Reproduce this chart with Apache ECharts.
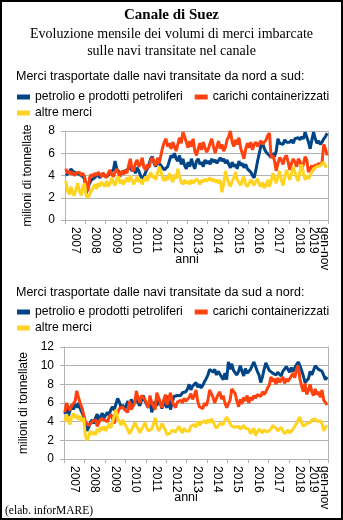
<!DOCTYPE html>
<html><head><meta charset="utf-8">
<script src="https://cdn.jsdelivr.net/npm/echarts@6/dist/echarts.min.js"></script>
<style>html,body{margin:0;padding:0;background:#fff}#c{position:absolute;left:0;top:0;width:343px;height:520px}</style>
</head><body><div id="c"></div>
<script>
// x-axis tick labels (one per year interval)
const yearLabels = ['2007','2008','2009','2010','2011','2012','2013','2014','2015','2016','2017','2018','gen-nov\n2019'];
const seriesNames = ['petrolio e prodotti petroliferi','carichi containerizzati','altre merci'];

// Nord -> Sud (milioni di tonnellate, mensile gen 2007 - nov 2019)
const nsPetrolio = [
 4.0,3.9,4.3,4.6,4.4,4.5,4.2,4.3,4.1,4.2,3.9,3.7,
 2.4,2.9,3.3,3.6,3.5,3.8,3.9,4.1,3.8,4.0,4.2,3.9,
 3.8,4.0,4.3,4.2,4.5,5.3,4.6,4.4,4.1,4.3,4.2,4.4,
 4.3,4.6,4.8,4.4,4.6,4.2,4.7,4.4,4.0,3.7,3.9,4.3,
 4.6,5.0,5.5,5.7,5.1,4.8,5.3,5.2,4.9,4.8,4.5,4.6,
 4.8,5.3,5.8,5.6,6.0,5.5,5.3,5.8,5.0,5.5,4.9,4.6,
 5.2,4.8,5.5,5.0,4.6,5.3,5.5,5.0,5.2,4.8,5.4,5.1,
 5.3,5.0,5.5,5.2,5.4,5.1,5.0,5.6,5.3,5.5,5.1,5.4,
 5.0,4.7,5.2,4.8,5.0,4.6,5.3,4.9,5.1,4.7,5.0,4.6,
 4.6,4.3,4.0,3.8,4.5,5.3,6.0,6.7,6.9,6.4,6.1,6.2,
 5.8,5.6,6.0,5.7,6.2,7.3,6.9,7.0,6.8,7.2,7.0,7.1,
 7.0,7.2,6.9,7.3,7.2,7.4,7.2,7.5,7.3,7.9,7.8,7.0,
 6.4,7.2,7.9,7.3,6.9,7.1,6.8,7.0,7.3,7.5,7.8
];
const nsContainer = [
 4.6,4.2,4.4,4.1,4.3,4.0,4.2,4.1,4.3,4.0,4.2,3.9,
 3.2,2.6,3.8,4.1,3.9,4.2,4.0,4.3,4.1,3.9,4.2,4.0,
 3.8,4.2,4.5,4.1,3.9,4.3,4.6,4.2,3.9,4.4,4.1,4.5,
 4.2,4.9,5.5,4.6,4.4,5.1,5.4,4.8,5.0,5.6,4.7,4.5,
 5.0,4.7,5.3,5.6,5.2,4.9,5.6,5.1,5.8,6.5,7.0,7.3,
 6.6,6.9,6.4,7.0,6.6,6.2,6.8,7.4,6.9,7.9,7.5,7.0,
 6.5,7.1,6.6,7.3,6.2,5.8,6.4,6.9,6.3,7.0,6.5,6.1,
 6.4,6.9,7.3,6.6,6.0,6.6,7.1,6.4,6.8,6.2,6.5,7.2,
 7.5,8.0,7.0,6.6,7.2,6.8,7.4,6.5,6.0,5.5,6.4,6.9,
 6.5,7.0,6.3,6.8,7.0,6.6,6.9,7.1,6.8,7.0,7.2,7.6,
 7.8,5.6,5.8,5.3,4.4,5.1,5.6,5.4,5.0,5.6,5.8,5.2,
 4.5,5.1,5.5,5.2,4.8,5.5,5.3,4.6,5.0,5.7,5.4,4.3,
 4.6,4.9,4.5,5.0,4.8,5.1,4.9,5.2,6.8,6.4,5.8
];
const nsAltre = [
 3.5,2.6,2.3,3.0,2.4,2.2,2.8,3.3,2.6,2.2,3.0,3.3,
 2.2,2.0,2.1,2.6,2.9,3.2,2.8,3.3,3.0,3.4,3.2,3.0,
 3.5,3.0,3.3,3.8,3.4,3.1,3.7,3.9,3.3,3.6,3.2,3.5,
 3.8,3.4,4.0,3.6,3.2,3.5,3.9,3.4,3.7,3.2,3.6,3.9,
 3.5,3.9,4.3,3.8,4.0,3.6,4.2,4.8,4.4,3.8,3.5,3.9,
 3.6,4.2,3.8,3.4,4.1,3.7,4.6,3.9,3.4,3.2,3.6,3.3,
 3.5,3.2,3.6,3.3,3.4,3.7,3.5,3.2,3.6,3.4,3.7,3.5,
 3.6,3.8,3.5,3.7,3.4,3.6,3.3,3.6,2.5,3.2,4.4,3.8,
 3.3,3.0,3.5,3.8,4.3,3.6,3.4,3.1,3.6,3.9,3.2,3.0,
 3.3,3.6,3.4,3.1,3.5,3.7,3.2,3.0,3.4,2.9,3.1,3.6,
 3.0,3.5,4.2,3.8,3.3,3.9,4.4,3.6,3.1,3.8,4.5,4.0,
 3.6,4.2,4.8,4.3,3.8,3.5,4.4,5.0,4.2,3.6,4.0,3.7,
 3.7,4.3,4.6,4.5,4.8,4.7,4.9,5.0,5.2,4.8,4.8
];

// Sud -> Nord
const snPetrolio = [
 4.8,5.5,4.6,5.2,5.8,5.3,5.9,5.5,6.0,5.4,5.0,4.6,
 3.8,3.0,3.4,3.9,4.2,3.8,4.4,4.8,4.1,4.6,4.9,4.4,
 4.6,5.0,4.7,5.3,5.6,5.2,5.9,6.5,6.1,5.5,5.8,5.3,
 5.7,6.2,5.6,6.4,5.8,6.1,6.6,6.0,5.7,6.3,6.8,6.2,
 6.0,5.5,6.4,5.0,5.6,6.2,5.7,6.5,6.0,5.4,6.3,5.8,
 5.5,6.8,5.3,6.0,6.7,6.9,6.8,7.0,6.8,7.1,7.0,7.2,
 7.5,8.0,7.4,7.8,7.6,8.2,7.7,8.0,7.6,7.9,8.3,8.6,
 9.0,9.6,9.8,9.3,9.6,9.0,9.4,9.1,8.8,8.5,9.2,8.5,
 10.4,9.6,10.2,9.5,9.3,9.0,9.4,10.0,9.4,8.9,9.7,9.2,
 9.0,9.6,10.0,10.4,10.2,9.4,9.0,8.2,8.8,9.6,10.3,10.1,
 9.5,9.3,9.2,9.4,9.0,9.3,9.1,8.9,9.4,9.2,9.9,9.6,
 9.3,9.8,9.4,9.8,10.1,10.4,10.0,9.5,8.9,8.2,8.0,8.6,
 9.4,9.0,8.8,10.0,10.1,9.6,9.8,9.4,9.3,8.5,8.8
];
const snContainer = [
 5.0,6.0,5.6,5.2,5.7,5.9,6.2,7.3,6.6,6.0,5.5,4.8,
 4.0,3.8,3.6,3.7,4.0,3.9,4.2,3.5,3.9,4.3,4.5,4.2,
 4.4,4.0,4.5,4.8,4.3,3.8,4.6,5.0,5.4,5.2,5.6,5.3,
 5.5,5.0,6.2,5.3,5.1,6.0,7.3,6.5,6.0,6.8,7.0,6.4,
 6.2,5.5,6.8,6.0,5.7,5.3,7.1,6.6,6.0,5.5,6.3,6.9,
 5.8,6.4,7.1,6.2,5.8,5.5,6.1,5.9,6.3,6.0,6.5,6.2,
 6.0,6.6,7.0,6.4,6.8,7.4,6.2,5.6,5.8,5.4,6.0,5.7,
 6.3,7.4,7.2,6.6,6.0,6.5,6.9,7.2,6.4,6.8,6.0,5.5,
 5.6,6.3,7.5,7.6,7.0,6.2,5.6,6.4,5.9,6.6,6.2,6.8,
 6.0,6.6,6.3,6.8,6.5,6.9,7.0,6.7,7.2,6.9,7.2,7.6,
 7.9,8.8,8.3,8.6,8.0,8.7,8.2,8.5,8.8,8.1,8.6,8.3,
 8.5,8.9,9.2,8.7,9.6,10.0,8.6,7.8,7.2,8.1,6.9,7.4,
 8.0,7.2,6.8,7.5,6.9,7.2,6.6,7.4,6.3,6.1,5.8
];
const snAltre = [
 4.0,4.8,4.2,3.7,4.5,4.9,4.4,4.7,4.2,4.6,4.0,4.4,
 2.6,2.0,2.4,3.0,2.6,2.9,2.6,3.2,2.9,3.4,3.1,3.5,
 3.0,3.4,3.8,3.3,4.0,4.6,5.3,4.4,4.0,3.6,4.2,3.8,
 3.5,3.1,2.7,2.9,3.4,3.9,3.6,3.2,2.8,3.0,3.5,3.9,
 3.4,3.0,2.8,3.2,3.7,4.4,3.6,3.0,3.3,3.8,3.5,3.1,
 2.6,2.4,2.8,3.1,3.3,2.9,3.2,3.5,3.1,2.8,3.3,3.0,
 3.2,3.0,3.5,3.3,3.7,3.4,4.0,3.6,3.9,3.7,4.1,3.8,
 4.2,3.9,4.3,4.0,3.6,3.3,3.5,3.8,4.0,3.7,4.2,4.5,
 4.2,3.8,3.5,3.7,3.4,3.6,3.5,3.2,3.4,3.6,3.3,3.5,
 3.2,2.7,3.0,3.3,2.5,2.9,3.2,3.0,2.8,3.1,3.3,2.9,
 3.0,3.2,3.6,3.8,3.3,3.0,3.2,3.4,3.0,2.7,2.9,3.1,
 2.8,3.0,3.2,3.5,3.8,4.2,4.5,3.9,3.5,3.3,3.8,4.0,
 3.9,4.2,4.1,4.3,4.0,4.2,4.1,3.8,3.0,3.4,3.6
];

const colors = ['#004586','#ff420e','#ffd320'];
const SANS = '"Liberation Sans", Arial, sans-serif';
const SERIF = '"Liberation Serif", "Times New Roman", serif';
const nMonths = nsPetrolio.length; // 155
const ticks = [];
for (let i = 0; i < yearLabels.length; i++) ticks.push(i * 12);
ticks.push(nMonths);
const labelVals = [];
for (let i = 0; i < ticks.length - 1; i++) labelVals.push((ticks[i] + ticks[i + 1]) / 2);

function xAxisFor(gi) {
  return {
    type: 'value', gridIndex: gi, min: 0, max: nMonths,
    axisLine: {show: true, lineStyle: {color: '#b3b3b3', width: 1}},
    axisTick: {show: true, length: 4, inside: false, customValues: ticks, lineStyle: {color: '#b3b3b3'}},
    axisLabel: {show: true, rotate: -90, margin: 7, customValues: labelVals, hideOverlap: false,
      fontFamily: SANS, fontSize: 12, color: '#000', lineHeight: 11,
      formatter: v => yearLabels[Math.min(Math.floor(v / 12), yearLabels.length - 1)]},
    splitLine: {show: false}
  };
}
function yAxisFor(gi, max) {
  return {
    type: 'value', gridIndex: gi, min: 0, max: max, interval: 2, position: 'left',
    name: 'milioni di tonnellate', nameLocation: 'middle', nameGap: 31,
    nameTextStyle: {fontFamily: SANS, fontSize: 12, color: '#000'},
    axisLine: {show: true, lineStyle: {color: '#b3b3b3'}},
    axisTick: {show: true, length: 4, lineStyle: {color: '#b3b3b3'}},
    axisLabel: {fontFamily: SANS, fontSize: 12, color: '#000', margin: 10},
    splitLine: {show: true, lineStyle: {color: '#b3b3b3', width: 1}}
  };
}
function yRight(gi, max) {
  return {type: 'value', gridIndex: gi, min: 0, max: max, interval: 2, position: 'right',
    axisLine: {show: true, lineStyle: {color: '#b3b3b3'}}, axisTick: {show: false},
    axisLabel: {show: false}, splitLine: {show: false}};
}
function mk(name, arr, xi, yi, ci) {
  return {type: 'line', name: name, xAxisIndex: xi, yAxisIndex: yi, symbol: 'none',
    lineStyle: {width: 3, color: colors[ci]}, itemStyle: {color: colors[ci]},
    data: arr.map((v, i) => [i + 0.5, v]), animation: false, silent: true};
}
function legendFor(names, top) {
  return {left: 17, top: top, padding: 0, itemGap: 12, itemWidth: 13, itemHeight: 5, icon: 'rect',
    selectedMode: false, data: names,
    textStyle: {fontFamily: SANS, fontSize: 12.2, color: '#000', lineHeight: 16}};
}
function txt(x, y, text, font, align) {
  return {type: 'text', x: x, y: y, silent: true,
    style: {text: text, font: font, fill: '#000', align: align || 'left', verticalAlign: 'middle',
      textAlign: align || 'left', textVerticalAlign: 'middle', lineHeight: 17}};
}

const chart = echarts.init(document.getElementById('c'), null, {renderer: 'canvas'});
chart.setOption({
  animation: false,
  backgroundColor: '#fff',
  grid: [
    {left: 65, top: 131, width: 263, height: 89},
    {left: 64, top: 347, width: 264, height: 112}
  ],
  xAxis: [xAxisFor(0), xAxisFor(1)],
  yAxis: [yAxisFor(0, 8), yRight(0, 8), yAxisFor(1, 12), yRight(1, 12)],
  legend: [
    legendFor([seriesNames[0], seriesNames[1]], 89),
    legendFor([seriesNames[2]], 105),
    legendFor([seriesNames[0], seriesNames[1]], 304),
    legendFor([seriesNames[2]], 320)
  ],
  series: [
    mk(seriesNames[0], nsPetrolio, 0, 0, 0),
    mk(seriesNames[1], nsContainer, 0, 0, 1),
    mk(seriesNames[2], nsAltre, 0, 0, 2),
    mk(seriesNames[0], snPetrolio, 1, 2, 0),
    mk(seriesNames[1], snContainer, 1, 2, 1),
    mk(seriesNames[2], snAltre, 1, 2, 2)
  ],
  graphic: [
    {type: 'rect', shape: {x: 1, y: 1, width: 341, height: 518}, silent: true,
      style: {fill: 'none', stroke: '#000', lineWidth: 2}},
    txt(171.5, 15, 'Canale di Suez', 'bold 15px ' + SERIF, 'center'),
    txt(171.5, 34, 'Evoluzione mensile dei volumi di merci imbarcate', '14px ' + SERIF, 'center'),
    txt(171.5, 51, 'sulle navi transitate nel canale', '14px ' + SERIF, 'center'),
    txt(16, 77, 'Merci trasportate dalle navi transitate da nord a sud:', '12.5px ' + SANS),
    txt(187, 260, 'anni', '12.5px ' + SANS, 'center'),
    txt(16, 293, 'Merci trasportate dalle navi transitate da sud a nord:', '12.5px ' + SANS),
    txt(186, 498, 'anni', '12.5px ' + SANS, 'center'),
    txt(5, 511, '(elab. inforMARE)', '11.5px ' + SERIF)
  ]
});
</script></body></html>
